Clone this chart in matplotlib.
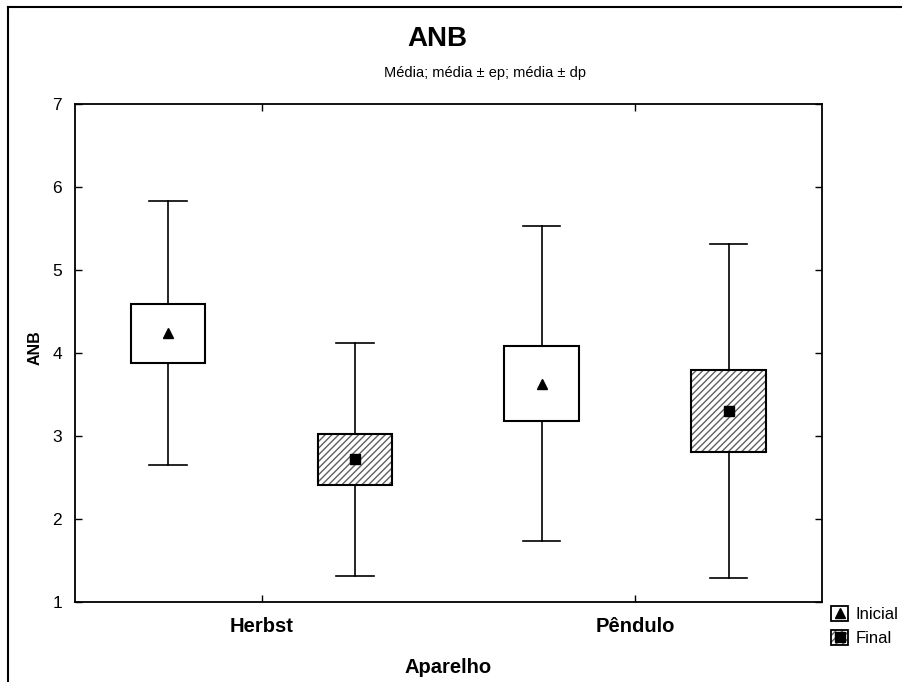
import matplotlib
matplotlib.use("Agg")
import matplotlib.pyplot as plt
from matplotlib.patches import Rectangle
from matplotlib.lines import Line2D
from matplotlib.legend_handler import HandlerTuple

plt.rcParams['font.family'] = ['Liberation Sans', 'DejaVu Sans']

# data: mean, standard error, standard deviation
grupos = ["Herbst", "Pêndulo"]
series = ["Inicial", "Final"]
media_inicial = [4.24, 3.63]
ep_inicial = [0.355, 0.455]
dp_inicial = [1.59, 1.895]
media_final = [2.72, 3.30]
ep_final = [0.305, 0.49]
dp_final = [1.405, 2.01]

fig = plt.figure(figsize=(9.03, 6.82), dpi=100)
ax = fig.add_axes([0.0827, 0.1173, 0.8276, 0.7302])

off = 0.25
box_w = 0.2
cap_w = 0.1
lw = 1.2
hatch_col = '#606060'


def draw_group(x, m, ep, dp, hatched, marker):
    # whisker (mean +- sd)
    ax.plot([x, x], [m - dp, m + dp], color='black', lw=lw, zorder=1)
    ax.plot([x - cap_w / 2, x + cap_w / 2], [m + dp, m + dp], color='black', lw=lw, zorder=1)
    ax.plot([x - cap_w / 2, x + cap_w / 2], [m - dp, m - dp], color='black', lw=lw, zorder=1)
    # box (mean +- se)
    if hatched:
        ax.add_patch(Rectangle((x - box_w / 2, m - ep), box_w, 2 * ep, facecolor='white',
                               edgecolor=hatch_col, hatch='/////', lw=0, zorder=2))
    else:
        ax.add_patch(Rectangle((x - box_w / 2, m - ep), box_w, 2 * ep, facecolor='white',
                               lw=0, zorder=2))
    ax.add_patch(Rectangle((x - box_w / 2, m - ep), box_w, 2 * ep, fill=False,
                           edgecolor='black', lw=lw * 1.25, zorder=3))
    ax.plot(x, m, marker=marker, color='black', ms=6.5, zorder=4)


for i in range(len(grupos)):
    draw_group(i - off, media_inicial[i], ep_inicial[i], dp_inicial[i], False, '^')
    draw_group(i + off, media_final[i], ep_final[i], dp_final[i], True, 's')

ax.set_xlim(-0.5, 1.5)
ax.set_ylim(1, 7)
ax.set_xticks(range(len(grupos)))
ax.set_xticklabels(grupos, fontweight='bold', fontsize=14.5)
ax.set_yticks(range(1, 8))
ax.tick_params(axis='y', direction='in', length=5, width=1, labelsize=12.5, pad=9,
               right=True)
ax.tick_params(axis='x', direction='in', length=5, width=1, pad=10.5, top=True)
for s in ax.spines.values():
    s.set_linewidth(1.3)

ax.set_xlabel("Aparelho", fontweight='bold', fontsize=14.5, labelpad=16)
ax.set_ylabel("ANB", fontweight='bold', fontsize=11.5)
ax.yaxis.set_label_coords(-0.043, 0.51)

fig.text(437 / 903, 1 - 39 / 682, "ANB", ha='center', va='center', fontsize=20, fontweight='bold')
fig.text(485 / 903, 1 - 73 / 682, "Média; média ± ep; média ± dp", ha='center', va='center',
         fontsize=10.5)

# legend
h_ini = (Rectangle((0, 0), 1, 1, facecolor='white', edgecolor='black', lw=1.3),
         Line2D([], [], marker='^', color='black', ls='none', ms=7))
h_fin = (Rectangle((0, 0), 1, 1, facecolor='white', edgecolor=hatch_col, hatch='/////', lw=0),
         Rectangle((0, 0), 1, 1, fill=False, edgecolor='black', lw=1.3),
         Line2D([], [], marker='s', color='black', ls='none', ms=7))
fig.legend([h_ini, h_fin], series, loc='upper left', bbox_to_anchor=(831 / 903, 1 - 606 / 682),
           frameon=False, handler_map={tuple: HandlerTuple(ndivide=1, pad=0)},
           handlelength=1.05, handleheight=1.05, handletextpad=0.45, labelspacing=0.45,
           fontsize=12, borderaxespad=0, borderpad=0)

# figure frame (left and top edges visible)
fig.add_artist(Line2D([8 / 903, 8 / 903], [0, 1 - 7 / 682], color='black', lw=1.5))
fig.add_artist(Line2D([8 / 903, 1], [1 - 7 / 682, 1 - 7 / 682], color='black', lw=1.5))

fig.savefig("out.png", dpi=100)
